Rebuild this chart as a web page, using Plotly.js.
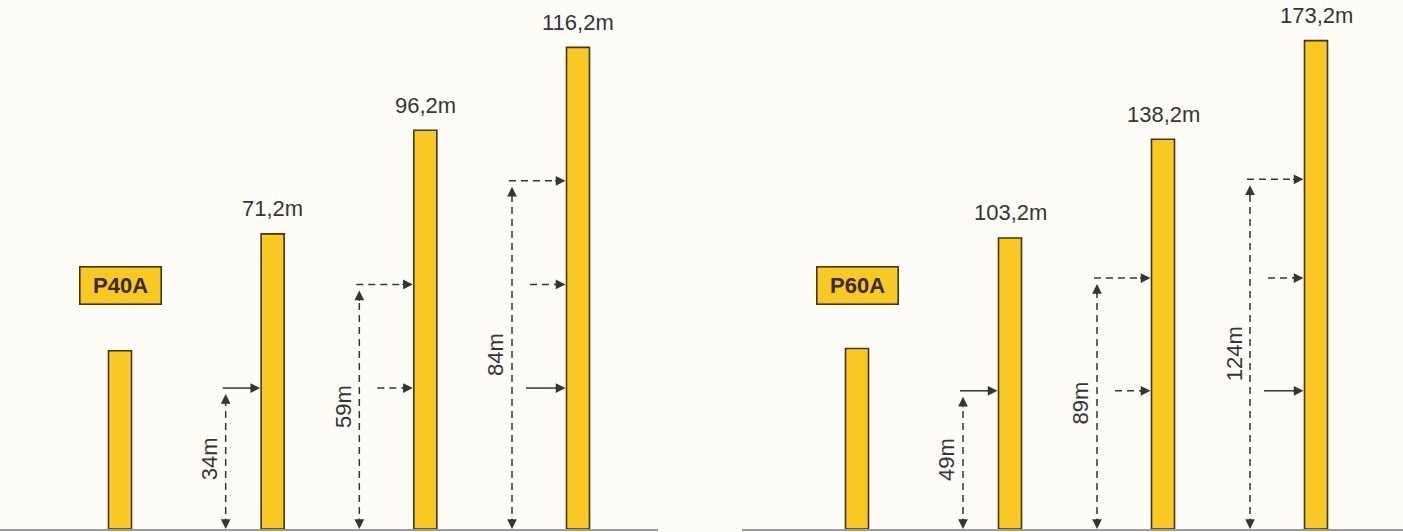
<!DOCTYPE html>
<html><head><meta charset="utf-8">
<script src="https://cdn.plot.ly/plotly-3.0.1.min.js"></script>
<style>html,body{margin:0;padding:0;background:#fdfcf7;overflow:hidden}</style>
</head><body><div id="chart" style="width:1403px;height:532px"></div>
<script>
// ---- data ----
const towers = [0, 1, 2, 3];
const p40Heights = [43, 71.2, 96.2, 116.2];
const p40Labels = ['', '71,2m', '96,2m', '116,2m'];
const p40Levels = [34, 59, 84];
const p40LevelLabels = ['34m', '59m', '84m'];
const p60Heights = [64, 103.2, 138.2, 173.2];
const p60Labels = ['', '103,2m', '138,2m', '173,2m'];
const p60Levels = [49, 89, 124];
const p60LevelLabels = ['49m', '89m', '124m'];
const modelNames = ['P40A', 'P60A'];

// ---- style ----
const BAR = '#f9c823', OUT = '#45331a', INK = '#353535', FONT = 'Liberation Sans, Arial, sans-serif';
const PLOT_H = 529;

const traces = [], shapes = [], annotations = [];

function panel(xa, ya, heights, labels, levels, levelLabels, name, pxu, yTop) {
  const xr = xa, yr = ya;
  const pxy = PLOT_H / yTop;
  const dx = p => p / pxu, dy = p => p / pxy;
  traces.push({type: 'bar', x: towers, y: heights, xaxis: xr, yaxis: yr, width: dx(23),
    marker: {color: BAR, line: {color: OUT, width: 1.6}}, hoverinfo: 'skip', showlegend: false});
  heights.forEach((h, i) => {
    if (labels[i]) annotations.push({x: towers[i], y: h, xref: xr, yref: yr, text: labels[i], showarrow: false,
      yanchor: 'middle', yshift: 25, font: {family: FONT, size: 22, color: INK}});
  });
  annotations.push({x: towers[0], y: (PLOT_H - 285) / PLOT_H, xref: xr, yref: 'paper', text: '<b>' + name + '</b>',
    showarrow: false, bgcolor: BAR, bordercolor: OUT, borderwidth: 1.6, width: 78, height: 34,
    font: {family: FONT, size: 22, color: '#3a2a12'}});
  const vOff = [0, -47, -66, -66];
  const dashLine = (x0, y0, x1, y1, solid) => shapes.push({type: 'line', xref: xr, yref: yr, x0, y0, x1, y1,
    line: {color: INK, width: 1.5, dash: solid ? 'solid' : '7px,5px'}});
  const head = (x, y, ax, ay) => annotations.push({x, y, xref: xr, yref: yr, ax, ay, text: '', showarrow: true,
    arrowhead: 2, arrowsize: 1.5, arrowwidth: 1.3, arrowcolor: INK, standoff: 0});
  for (let k = 1; k <= 3; k++) {
    const L = levels[k - 1];
    const vx = towers[k] + dx(vOff[k]);
    const edge = towers[k] - dx(12.5);
    dashLine(vx, dy(3), vx, L - dy(8), false);
    head(vx, L - dy(6), 0, 12);
    head(vx, 0, 0, -12);
    dashLine(vx - dx(3), L, edge - dx(8), L, k === 1);
    head(edge, L, -12, 0);
    for (let j = 0; j < k - 1; j++) {
      const solid = (k === 3 && j === 0);
      const sx = towers[k] + dx(solid ? -52 : -48);
      dashLine(sx, levels[j], edge - dx(8), levels[j], solid);
      head(edge, levels[j], -12, 0);
    }
    annotations.push({x: vx - dx(16), y: L / 2, xref: xr, yref: yr, text: levelLabels[k - 1], showarrow: false,
      textangle: -90, font: {family: FONT, size: 22, color: INK}});
  }
}

const leftPxu = (578 - 120) / 3, rightPxu = (1316 - 857) / 3;
const leftTop = PLOT_H / 4.145, rightTop = PLOT_H / 2.82;
panel('x', 'y', p40Heights, p40Labels, p40Levels, p40LevelLabels, modelNames[0], leftPxu, leftTop);
panel('x2', 'y2', p60Heights, p60Labels, p60Levels, p60LevelLabels, modelNames[1], rightPxu, rightTop);

const axX = (dom, r) => ({domain: dom, range: r, showgrid: false, zeroline: false, showticklabels: false, ticks: '',
  showline: true, linecolor: '#9c9c9c', linewidth: 1.5, fixedrange: true});
const axY = (r, anchor) => ({range: r, showgrid: false, zeroline: false, showticklabels: false, ticks: '', showline: false,
  anchor: anchor, fixedrange: true});

const layout = {
  width: 1403, height: 532,
  margin: {l: 0, r: 0, t: 0, b: 3, pad: 0},
  paper_bgcolor: '#fdfcf7', plot_bgcolor: 'rgba(0,0,0,0)',
  showlegend: false, bargap: 0,
  xaxis: axX([0, 658 / 1403], [-120 / leftPxu, (658 - 120) / leftPxu]),
  yaxis: axY([0, leftTop], 'x'),
  xaxis2: Object.assign(axX([742 / 1403, 1], [-(857 - 742) / rightPxu, (1403 - 857) / rightPxu]), {anchor: 'y2'}),
  yaxis2: axY([0, rightTop], 'x2'),
  shapes, annotations
};
Plotly.newPlot('chart', traces, layout, {displayModeBar: false, staticPlot: true});
</script></body></html>
